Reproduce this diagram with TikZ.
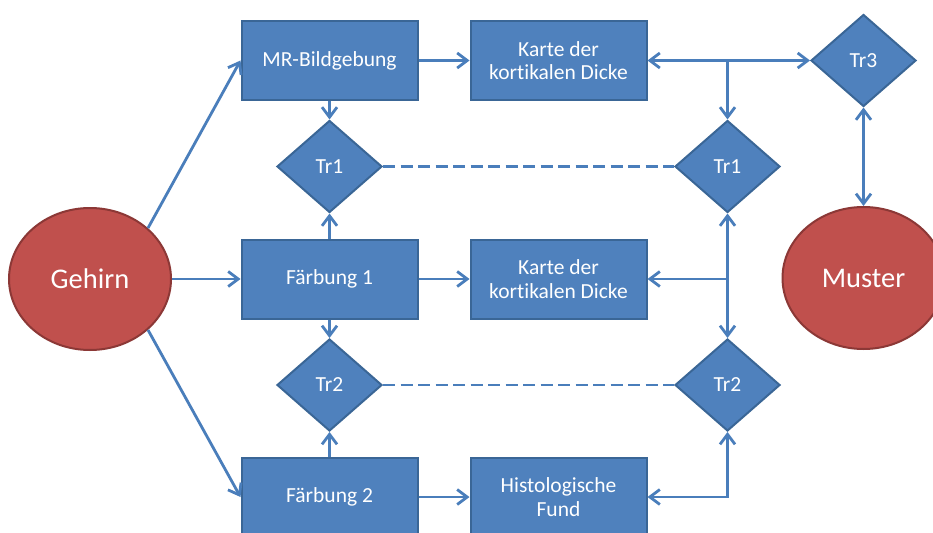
\documentclass[tikz,border=0pt]{standalone}
\usepackage{fontspec}
\setmainfont{Carlito}[Ligatures=NoCommon]
\usetikzlibrary{shapes.geometric,arrows.meta}
\definecolor{boxblue}{HTML}{4F81BD}
\definecolor{boxedge}{HTML}{3A6696}
\definecolor{linkblue}{HTML}{4A7EBB}
\definecolor{ovalred}{HTML}{C0504D}
\definecolor{ovaledge}{HTML}{8C3836}

\begin{document}
\begin{tikzpicture}[x=1pt,y=-1pt,
  >={Straight Barb[length=10pt,width=15pt]},
  every node/.style={text=white, font=\fontsize{21.5}{23.5}\selectfont,
    inner sep=0pt, align=center},
  procbox/.style={rectangle, fill=boxblue, draw=boxedge, line width=2pt,
    minimum width=176pt, minimum height=79pt},
  trnode/.style={diamond, fill=boxblue, draw=boxedge, line width=2pt,
    minimum width=105pt, minimum height=92pt},
  oval/.style={ellipse, fill=ovalred, draw=ovaledge, line width=2pt,
    minimum width=162pt, minimum height=142pt,
    font=\fontsize{28.5}{33}\selectfont},
  link/.style={draw=linkblue, line width=2.8pt},
  pair/.style={draw=linkblue, line width=2.8pt, dash pattern=on 12pt off 5.5pt}
]
\fill[white] (0,0) rectangle (933,532);
\useasboundingbox (0,0) rectangle (933,532);
\clip (0,0) rectangle (933,532);

% start and end ovals
\node[oval] (gehirn) at (90,279) {Gehirn};
\node[oval] (muster) at (863.5,278) {Muster};

% processing steps
\node[procbox] (mr) at (329.5,60.5) {MR-Bildgebung};
\node[procbox] (f1) at (329.5,279)  {Färbung 1};
\node[procbox] (f2) at (329.5,497)  {Färbung 2};
\node[procbox] (k1) at (558.5,60.5) {Karte der\\kortikalen Dicke};
\node[procbox] (k2) at (558.5,279)  {Karte der\\kortikalen Dicke};
\node[procbox] (hf) at (558.5,497)  {Histologische\\Fund};

% transformations
\node[trnode] (t1l) at (329.5,166.5) {Tr1};
\node[trnode] (t2l) at (329.5,385)   {Tr2};
\node[trnode] (t1r) at (727.5,166.5) {Tr1};
\node[trnode] (t2r) at (727.5,385)   {Tr2};
\node[trnode] (t3)  at (863.5,60.5)  {Tr3};

% flows from the brain
\draw[link,->] (gehirn.north east) -- (mr.west);
\draw[link,->] (gehirn.east) -- (f1.west);
\draw[link,->] (gehirn.south east) -- (f2.west);

% left column
\draw[link,->] (mr.south) -- (t1l.north);
\draw[link,->] (f1.north) -- (t1l.south);
\draw[link,->] (f1.south) -- (t2l.north);
\draw[link,->] (f2.north) -- (t2l.south);

% to the maps
\draw[link,->] (mr.east) -- (k1.west);
\draw[link,->] (f1.east) -- (k2.west);
\draw[link,->] (f2.east) -- (hf.west);

% right column
\draw[link,<->] (k1.east) -- (t3.west);
\draw[link,->] (t1r.north |- k1.east) -- (t1r.north);
\draw[link,<->] (t1r.south) -- (t2r.north);
\draw[link,->] (t1r.south |- k2.east) -- (k2.east);
\draw[link,<->] (hf.east) -- (t2r.south |- hf.east) -- (t2r.south);
\draw[link,<->] (t3.south) -- (muster.north);

% pairing of transformations
\draw[pair] (t1l.east) -- (t1r.west);
\draw[pair] (t2l.east) -- (t2r.west);
\end{tikzpicture}
\end{document}
